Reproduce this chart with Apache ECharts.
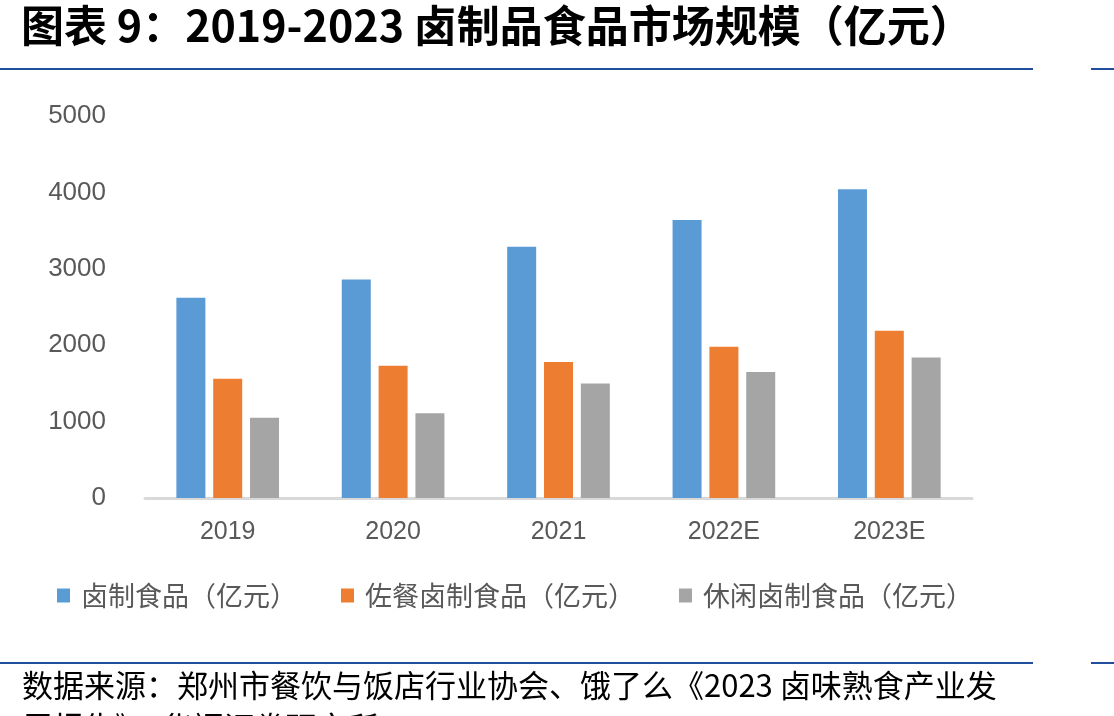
<!DOCTYPE html>
<html lang="zh">
<head>
  <meta charset="UTF-8">
  <title>卤制品食品市场规模</title>
  <script src="https://cdn.jsdelivr.net/npm/echarts@6/dist/echarts.min.js"></script>
  <style>
    html, body { margin: 0; padding: 0; background: #fff; }
    #main { width: 1114px; height: 716px; }
  </style>
</head>
<body>
<div id="main"></div>
<script>
  var chart = echarts.init(document.getElementById('main'));

  var years = ['2019', '2020', '2021', '2022E', '2023E'];
  var luzhi = [2620, 2860, 3290, 3640, 4040];      // 卤制食品
  var zuocan = [1560, 1730, 1780, 1980, 2190];     // 佐餐卤制食品
  var xiuxian = [1050, 1110, 1500, 1650, 1840];    // 休闲卤制食品
  var names = ['卤制食品（亿元）', '佐餐卤制食品（亿元）', '休闲卤制食品（亿元）'];
  var colors = ['#5b9bd5', '#ed7d31', '#a5a5a5'];

  var cjk = '"Noto Sans CJK SC", "Liberation Sans", sans-serif';
  var lineColor = '#1f4e9c';

  var option = {
    animation: false,
    backgroundColor: '#fff',
    color: colors,
    title: {
      text: '图表 9：2019-2023 卤制品食品市场规模（亿元）',
      left: 21,
      top: 4,
      padding: 0,
      textStyle: { fontSize: 43, fontWeight: 'bold', color: '#000', fontFamily: cjk }
    },
    graphic: [
      { type: 'rect', shape: { x: 0, y: 68, width: 1033, height: 2 }, style: { fill: lineColor } },
      { type: 'rect', shape: { x: 1091, y: 68, width: 23, height: 2 }, style: { fill: lineColor } },
      { type: 'rect', shape: { x: 0, y: 662, width: 1033, height: 2 }, style: { fill: lineColor } },
      { type: 'rect', shape: { x: 1091, y: 662, width: 23, height: 2 }, style: { fill: lineColor } },
      {
        type: 'text', left: 22, top: 670,
        style: { text: '数据来源：郑州市餐饮与饭店行业协会、饿了么《2023 卤味熟食产业发', fontSize: 31, fill: '#000', fontFamily: cjk }
      },
      {
        type: 'text', left: 22, top: 712,
        style: { text: '展报告》，华福证券研究所', fontSize: 31, fill: '#000', fontFamily: cjk }
      }
    ],
    legend: {
      data: names,
      left: 57,
      top: 582,
      padding: 0,
      itemWidth: 13,
      itemHeight: 14,
      itemGap: 44,
      icon: 'rect',
      textStyle: { fontSize: 27, color: '#595959', fontFamily: cjk, padding: [0, 0, 0, 6] }
    },
    grid: { left: 145, right: 142, top: 116, bottom: 218, containLabel: false },
    xAxis: {
      type: 'category',
      data: years,
      axisLine: { lineStyle: { color: '#d9d9d9', width: 3 } },
      axisTick: { show: false },
      axisLabel: { fontSize: 25, color: '#595959', margin: 22, fontFamily: '"Liberation Sans", sans-serif' }
    },
    yAxis: {
      type: 'value',
      min: 0,
      max: 5000,
      interval: 1000,
      splitLine: { show: false },
      axisLine: { show: false },
      axisTick: { show: false },
      axisLabel: {
        fontSize: 26, color: '#595959', margin: 39, fontFamily: '"Liberation Sans", sans-serif',
        formatter: function (v) { return String(v); }
      }
    },
    series: [
      { name: names[0], type: 'bar', data: luzhi, barWidth: 29, barGap: '27%', barCategoryGap: '38%' },
      { name: names[1], type: 'bar', data: zuocan, barWidth: 29, barGap: '27%' },
      { name: names[2], type: 'bar', data: xiuxian, barWidth: 29, barGap: '27%' }
    ]
  };

  chart.setOption(option);
</script>
</body>
</html>
